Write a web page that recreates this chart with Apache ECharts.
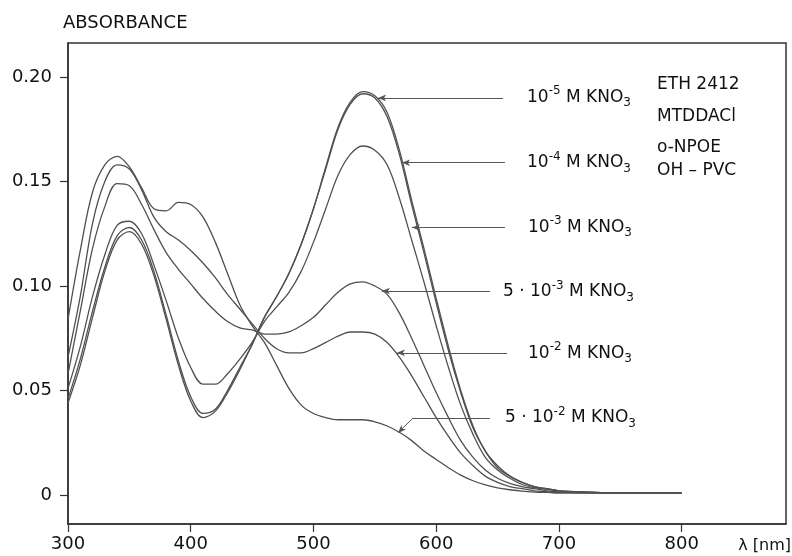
<!DOCTYPE html>
<html>
<head>
<meta charset="utf-8">
<script src="https://cdn.jsdelivr.net/npm/echarts@6/dist/echarts.min.js"></script>
<style>
html,body{margin:0;padding:0;background:#fff;}
#chart{width:792px;height:556px;}
</style>
</head>
<body>
<div id="chart"></div>
<script>
// Wavelengths (nm)
const wavelengths = [300,310,320,330,340,350,360,370,380,390,400,410,420,430,440,450,460,470,480,490,500,510,520,530,540,550,560,570,580,590,600,610,620,630,640,650,660,670,680,690,700,720,740,760,780,800];

// Absorbance values per KNO3 concentration
const abs_1e5 = [0.044,0.062,0.085,0.107,0.122,0.126,0.120,0.105,0.084,0.062,0.045,0.037,0.040,0.049,0.060,0.072,0.085,0.095,0.106,0.120,0.137,0.157,0.176,0.188,0.193,0.191,0.183,0.165,0.141,0.118,0.094,0.071,0.050,0.033,0.021,0.014,0.009,0.006,0.004,0.003,0.002,0.0015,0.001,0.001,0.001,0.001];
const abs_1e4 = [0.046,0.065,0.088,0.109,0.124,0.128,0.122,0.107,0.086,0.064,0.047,0.039,0.041,0.050,0.061,0.072,0.085,0.095,0.106,0.120,0.137,0.156,0.175,0.187,0.192,0.190,0.181,0.163,0.139,0.116,0.092,0.069,0.049,0.032,0.021,0.013,0.009,0.006,0.004,0.003,0.002,0.0015,0.001,0.001,0.001,0.001];
const abs_1e3 = [0.051,0.071,0.095,0.115,0.129,0.131,0.125,0.110,0.093,0.075,0.061,0.053,0.053,0.058,0.065,0.073,0.083,0.090,0.097,0.107,0.121,0.137,0.153,0.163,0.167,0.165,0.158,0.142,0.122,0.102,0.081,0.061,0.043,0.029,0.018,0.012,0.008,0.005,0.0035,0.0027,0.002,0.0014,0.001,0.001,0.001,0.001];
const abs_5e3 = [0.058,0.088,0.118,0.138,0.149,0.148,0.139,0.127,0.116,0.108,0.101,0.094,0.088,0.083,0.080,0.079,0.077,0.077,0.078,0.081,0.085,0.091,0.097,0.101,0.102,0.100,0.096,0.087,0.075,0.062,0.049,0.037,0.026,0.018,0.012,0.008,0.0055,0.004,0.003,0.002,0.0015,0.001,0.001,0.001,0.001,0.001];
const abs_1e2 = [0.066,0.095,0.130,0.150,0.158,0.156,0.146,0.133,0.126,0.122,0.117,0.111,0.104,0.096,0.089,0.082,0.075,0.070,0.068,0.068,0.070,0.073,0.076,0.078,0.078,0.077,0.073,0.066,0.057,0.047,0.037,0.028,0.020,0.014,0.009,0.006,0.004,0.003,0.002,0.0015,0.001,0.001,0.001,0.001,0.001,0.001];
const abs_5e2 = [0.084,0.117,0.145,0.158,0.162,0.157,0.147,0.137,0.136,0.140,0.139,0.133,0.121,0.106,0.091,0.081,0.073,0.062,0.051,0.043,0.039,0.037,0.036,0.036,0.036,0.035,0.033,0.030,0.026,0.021,0.017,0.013,0.0095,0.0068,0.0048,0.0034,0.0025,0.0018,0.0014,0.0012,0.001,0.001,0.001,0.001,0.001,0.001];

// Tick labels
const xTicks = [300,400,500,600,700,800];
const yTicks = [0,0.05,0.10,0.15,0.20];

// Curve labels (rich text)
const curveLabels = [
  '10{sup|-5} M KNO{sub|3}',
  '10{sup|-4} M KNO{sub|3}',
  '10{sup|-3} M KNO{sub|3}',
  '5 · 10{sup|-3} M KNO{sub|3}',
  '10{sup|-2} M KNO{sub|3}',
  '5 · 10{sup|-2} M KNO{sub|3}'
];
// Leader lines: arrow tip on curve (nm, A) -> line end (nm)
const leaderTipX = [552.6, 572.1, 580.3, 555.8, 568.0, 568.9];
const leaderTipY = [0.190, 0.159, 0.128, 0.0976, 0.068, 0.0297];
const leaderEndX = [654.4, 656.0, 656.0, 643.8, 657.7, 643.8];
const leaderLevelY = [0.190, 0.159, 0.128, 0.0976, 0.068, 0.0368];
const leaderElbowX = [null, null, null, null, null, 581.0];
// Label anchors (nm, A)
const labelX = [674.0, 674.0, 674.8, 654.4, 674.8, 656.0];
const labelY = [0.1904, 0.1589, 0.1282, 0.0971, 0.0679, 0.0368];

const membraneText = ['ETH 2412','MTDDACl','o-NPOE','OH – PVC'];

const allSeries = [abs_1e5, abs_1e4, abs_1e3, abs_5e3, abs_1e2, abs_5e2];
const curveColor = '#505050';
const textColor = '#111111';
const FONT = 'DejaVu Sans';

const chart = echarts.init(document.getElementById('chart'), null, {renderer:'canvas'});

const markData = [];
for (let i = 0; i < leaderTipX.length; i++) {
  if (leaderElbowX[i] !== null) {
    markData.push([{coord:[leaderTipX[i], leaderTipY[i]], symbol:'arrow'}, {coord:[leaderElbowX[i], leaderLevelY[i]], symbol:'none'}]);
    markData.push([{coord:[leaderElbowX[i], leaderLevelY[i]], symbol:'none'}, {coord:[leaderEndX[i], leaderLevelY[i]], symbol:'none'}]);
  } else {
    markData.push([{coord:[leaderTipX[i], leaderTipY[i]], symbol:'arrow'}, {coord:[leaderEndX[i], leaderLevelY[i]], symbol:'none'}]);
  }
}

const series = allSeries.map((arr, k) => ({
  type: 'line',
  data: wavelengths.map((w, i) => [w, arr[i]]),
  showSymbol: false,
  smooth: 0.35,
  lineStyle: {color: curveColor, width: 1.3},
  z: 2
}));
series[0].markLine = {
  silent: true,
  symbol: ['arrow','none'],
  symbolSize: [5, 8],
  lineStyle: {color: '#555', width: 1, type: 'solid'},
  label: {show: false},
  emphasis: {disabled: true},
  data: markData
};
series.push({
  type: 'scatter',
  symbolSize: 0,
  silent: true,
  itemStyle: {opacity: 1},
  data: labelX.map((x, i) => [x, labelY[i]]),
  label: {
    show: true,
    position: 'right',
    distance: 0,
    color: textColor,
    fontFamily: FONT,
    fontSize: 17,
    lineHeight: 24,
    formatter: p => curveLabels[p.dataIndex],
    rich: {
      sup: {fontSize: 12, fontFamily: FONT, color: textColor, verticalAlign: 'top', lineHeight: 12, padding: [0,0,4,0]},
      sub: {fontSize: 12, fontFamily: FONT, color: textColor, verticalAlign: 'bottom', lineHeight: 12}
    }
  }
});

const graphics = [
  {type:'text', left: 63, top: 14, style:{text:'ABSORBANCE', font:'18px "DejaVu Sans"', fill:textColor}},
  {type:'text', right: 1, top: 538, style:{text:'λ [nm]', font:'16px "DejaVu Sans"', fill:textColor}}
];
const blockY = [76, 108, 139, 162];
membraneText.forEach((t, i) => {
  graphics.push({type:'text', left: 657, top: blockY[i], style:{text:t, font:'17px "DejaVu Sans"', fill:textColor}});
});

chart.setOption({
  animation: false,
  backgroundColor: '#fff',
  grid: {left: 68, right: 6, top: 43, bottom: 32, show: true, borderColor: '#333', borderWidth: 1.5, backgroundColor: 'transparent'},
  xAxis: {
    type: 'value', min: 300, max: 885,
    axisLine: {show: true, onZero: false, lineStyle: {color: '#333', width: 1.5}},
    axisTick: {show: true, length: 8, lineStyle: {color: '#333', width: 1.2}, customValues: xTicks},
    axisLabel: {color: textColor, fontFamily: FONT, fontSize: 18, margin: 11, customValues: xTicks, formatter: v => String(v)},
    splitLine: {show: false}
  },
  yAxis: {
    type: 'value', min: -0.0139, max: 0.2163,
    axisLine: {show: true, onZero: false, lineStyle: {color: '#333', width: 1.5}},
    axisTick: {show: true, length: 8, lineStyle: {color: '#333', width: 1.2}, customValues: yTicks},
    axisLabel: {color: textColor, fontFamily: FONT, fontSize: 18, margin: 16, customValues: yTicks, formatter: v => v === 0 ? '0' : v.toFixed(2)},
    splitLine: {show: false}
  },
  graphic: graphics,
  series: series
});
</script>
</body>
</html>
